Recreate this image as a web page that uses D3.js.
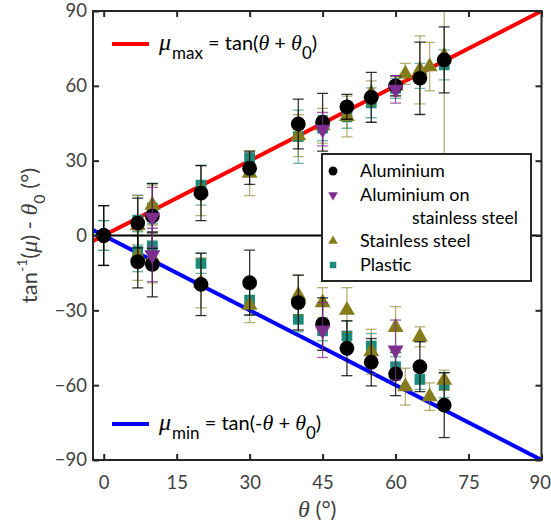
<!DOCTYPE html>
<html>
<head>
<meta charset="utf-8">
<script src="https://cdn.jsdelivr.net/npm/d3@7"></script>
<style>
  body { margin: 0; background: #fff; }
  text { font-family: Lato, "Open Sans", sans-serif; }
</style>
</head>
<body>
<svg id="chart" width="551" height="526"></svg>
<script>
// Tilt angle (deg) against measured friction angle offset, upper and lower branches
const alTheta   = [0, 7, 10, 20, 30, 40, 45, 50, 55, 60, 65, 70];
const alUp      = [0, 5, 7.8, 17, 27, 44.7, 45.4, 51.6, 55.4, 60, 63, 70.4];
const alUpErr   = [12, 10, 13, 11, 6.5, 10, 11.6, 5, 10, 4, 14.5, 13.2];
const alLo      = [0, -10.5, -11.6, -19.6, -18.9, -26.9, -35.5, -45.2, -50.8, -55.5, -52.6, -68];
const alLoErr   = [12, 10.5, 13, 12.5, 13, 11, 10.5, 11, 9.5, 8.7, 10, 13];

const alssTheta = [10, 45, 60];
const alssUp    = [7.3, 42.6, 58.6];
const alssUpErr = [12, 6.7, 5.5];
const alssLo    = [-7.8, -37.9, -45.9];
const alssLoErr = [10.7, 11, 12];

const ssTheta   = [7, 10, 20, 30, 40, 45, 50, 55, 60, 62, 65, 67, 70];
const ssUp      = [4, 12.2, 18, 25, 40, 44, 47.7, 57, 60, 64.8, 66.4, 67.7, 72];
const ssUpErr   = [12, 8, 10, 9, 8.4, 7, 8.2, 5, 4, 4.2, 13.6, 9.7, 75];
const ssLo      = [-8, -9, -19, -27.9, -23.9, -26.9, -29.9, -46.6, -36.8, -60.6, -40.6, -64.6, -58];
const ssLoErr   = [10, 10, 10, 7, 8, 6, 9, 9, 8.3, 7.4, 4, 5.5, 4];

const plTheta   = [0, 7, 10, 20, 30, 40, 45, 50, 55, 60, 65, 70];
const plUp      = [0, 6.2, 11, 20.2, 31, 39.6, 43, 47.6, 53.2, 59, 64, 68.4];
const plUpErr   = [6, 10, 10, 8, 3, 10.7, 5, 4.6, 6, 4, 5, 6];
const plLo      = [0, -6.5, -4.2, -11.2, -25.9, -33.6, -38.2, -40.3, -44.3, -52.6, -57.7, -60];
const plLoErr   = [6, 8, 9, 4, 6, 5, 4, 6, 5, 4, 4, 5];

const xTicks = [0, 15, 30, 45, 60, 75, 90];
const yTicks = [-90, -60, -30, 0, 30, 60, 90];
const legendNames = ["Aluminium", "Aluminium on", "Stainless steel", "Plastic"];

const svg = d3.select("#chart");
const pLeft = 93, pRight = 541.5, pTop = 11, pBottom = 460;

const x = d3.scaleLinear().domain([-2.2, 90]).range([pLeft, pRight]);
const y = d3.scaleLinear().domain([-90, 90]).range([pBottom, pTop]);

const axisColor = "#262626";
const labelColor = "#404040";

svg.append("defs").append("clipPath").attr("id", "plotClip")
  .append("rect").attr("x", pLeft).attr("y", pTop)
  .attr("width", pRight - pLeft).attr("height", pBottom - pTop);

const plot = svg.append("g").attr("clip-path", "url(#plotClip)");

// zero reference
plot.append("line")
  .attr("x1", pLeft).attr("x2", pRight)
  .attr("y1", y(0)).attr("y2", y(0))
  .attr("stroke", "#000").attr("stroke-width", 2);

// model lines: upper = +theta, lower = -theta
const lineDomain = x.domain();
const modelLine = d3.line().x(d => x(d[0])).y(d => y(d[1]));
plot.append("path")
  .attr("d", modelLine(lineDomain.map(t => [t, t])))
  .attr("stroke", "#ff0000").attr("stroke-width", 4).attr("fill", "none");
plot.append("path")
  .attr("d", modelLine(lineDomain.map(t => [t, -t])))
  .attr("stroke", "#0000ff").attr("stroke-width", 4).attr("fill", "none");

const series = [
  { name: "plastic", theta: plTheta, branches: [[plUp, plUpErr], [plLo, plLoErr]],
    color: "#1e8a7c", barColor: "rgba(30,138,124,0.65)", shape: "square" },
  { name: "steel", theta: ssTheta, branches: [[ssUp, ssUpErr], [ssLo, ssLoErr]],
    color: "#857c1c", barColor: "rgba(133,124,28,0.6)", shape: "up" },
  { name: "aluminium", theta: alTheta, branches: [[alUp, alUpErr], [alLo, alLoErr]],
    color: "#000000", barColor: "rgba(0,0,0,0.8)", shape: "circle" },
  { name: "alss", theta: alssTheta, branches: [[alssUp, alssUpErr], [alssLo, alssLoErr]],
    color: "#7e2f8e", barColor: "rgba(126,47,142,0.75)", shape: "down" }
];

const capHalf = 5.5;

function drawMarker(g, shape, cx, cy, color, scale) {
  if (shape === "circle") {
    g.append("circle").attr("cx", cx).attr("cy", cy).attr("r", 7.4 * scale).attr("fill", color);
  } else if (shape === "square") {
    g.append("path").attr("d", d3.symbol(d3.symbolSquare, 115 * scale * scale)())
      .attr("transform", `translate(${cx},${cy})`).attr("fill", color);
  } else {
    const rot = shape === "down" ? 180 : 0;
    g.append("path").attr("d", d3.symbol(d3.symbolTriangle, 110 * scale * scale)())
      .attr("transform", `translate(${cx},${cy}) rotate(${rot})`).attr("fill", color);
  }
}

series.forEach(s => {
  const g = plot.append("g").attr("class", s.name);
  s.branches.forEach(([vals, errs]) => {
    s.theta.forEach((t, i) => {
      const cx = x(t), lo = y(vals[i] - errs[i]), hi = y(vals[i] + errs[i]);
      g.append("line").attr("x1", cx).attr("x2", cx).attr("y1", lo).attr("y2", hi)
        .attr("stroke", s.barColor).attr("stroke-width", 1.3);
      [lo, hi].forEach(yy => g.append("line")
        .attr("x1", cx - capHalf).attr("x2", cx + capHalf).attr("y1", yy).attr("y2", yy)
        .attr("stroke", s.barColor).attr("stroke-width", 1.3));
    });
  });
  s.branches.forEach(([vals]) => {
    s.theta.forEach((t, i) => drawMarker(g, s.shape, x(t), y(vals[i]), s.color, 1));
  });
});

// axes box with inward ticks on all sides
const axisFont = 18.5;
const gLeft = svg.append("g").attr("transform", `translate(${pLeft},0)`)
  .call(d3.axisLeft(y).tickValues(yTicks).tickSize(-6).tickPadding(6));
const gRight = svg.append("g").attr("transform", `translate(${pRight},0)`)
  .call(d3.axisRight(y).tickValues(yTicks).tickSize(-6).tickFormat(""));
const gBottom = svg.append("g").attr("transform", `translate(0,${pBottom})`)
  .call(d3.axisBottom(x).tickValues(xTicks).tickSize(-6).tickPadding(16));
const gTop = svg.append("g").attr("transform", `translate(0,${pTop})`)
  .call(d3.axisTop(x).tickValues(xTicks).tickSize(-6).tickFormat(""));
[gLeft, gRight, gBottom, gTop].forEach(g => {
  g.select(".domain").remove();
  g.selectAll(".tick line").attr("stroke", axisColor).attr("stroke-width", 2);
  g.selectAll(".tick text").attr("fill", labelColor)
    .style("font-size", axisFont + "px").style("font-family", "Lato, sans-serif");
});
// keep the last x label inside the canvas
gBottom.selectAll(".tick").filter(d => d === 90).select("text")
  .attr("text-anchor", "end").attr("x", 9);
svg.append("rect").attr("x", pLeft).attr("y", pTop)
  .attr("width", pRight - pLeft).attr("height", pBottom - pTop)
  .attr("fill", "none").attr("stroke", axisColor).attr("stroke-width", 2);

// axis titles
const serif = "'Liberation Serif', 'DejaVu Serif', serif";
const xt = svg.append("text").attr("x", (pLeft + pRight) / 2).attr("y", 517)
  .attr("text-anchor", "middle").attr("fill", labelColor).style("font-size", "22px");
xt.append("tspan").text("θ").style("font-family", serif).style("font-style", "italic").style("font-size", "24px");
xt.append("tspan").text(" (°)");

const yt = svg.append("text")
  .attr("transform", `translate(37,${(pTop + pBottom) / 2}) rotate(-90)`)
  .attr("text-anchor", "middle").attr("fill", labelColor).style("font-size", "22px");
yt.append("tspan").text("tan");
yt.append("tspan").text("-1").attr("dy", -10).style("font-size", "14px");
yt.append("tspan").text("(").attr("dy", 10);
yt.append("tspan").text("μ").style("font-family", serif).style("font-style", "italic").style("font-size", "24px");
yt.append("tspan").text(") - ");
yt.append("tspan").text("θ").style("font-family", serif).style("font-style", "italic").style("font-size", "24px");
yt.append("tspan").text("0").attr("dy", 8).style("font-size", "16px");
yt.append("tspan").text(" (°)").attr("dy", -8);

// model line annotations
function modelLabel(yLine, sub, inner, color) {
  svg.append("line").attr("x1", 112).attr("x2", 149).attr("y1", yLine).attr("y2", yLine)
    .attr("stroke", color).attr("stroke-width", 4);
  const t = svg.append("text").attr("x", 159).attr("y", yLine + 6)
    .attr("fill", "#000").style("font-size", "20px");
  t.append("tspan").text("μ").style("font-family", serif).style("font-style", "italic").style("font-size", "24px");
  t.append("tspan").text(sub).attr("dy", 9).attr("dx", 1).style("font-size", "17px");
  t.append("tspan").text(" = tan(" + inner).attr("dy", -9);
  t.append("tspan").text("θ").style("font-family", serif).style("font-style", "italic").style("font-size", "22px");
  t.append("tspan").text(" + ");
  t.append("tspan").text("θ").style("font-family", serif).style("font-style", "italic").style("font-size", "22px");
  t.append("tspan").text("0").attr("dy", 9).style("font-size", "17px");
  t.append("tspan").text(")").attr("dy", -9);
}
modelLabel(44, "max", "", "#ff0000");
modelLabel(424, "min", "-", "#0000ff");

// material legend
const lg = svg.append("g");
lg.append("rect").attr("x", 322).attr("y", 154).attr("width", 209).attr("height", 127)
  .attr("fill", "#fff").attr("stroke", axisColor).attr("stroke-width", 2);
const legendRows = [
  { shape: "circle", color: "#000000", yc: 171, label: legendNames[0] },
  { shape: "down", color: "#7e2f8e", yc: 195, label: legendNames[1] },
  { shape: "up", color: "#857c1c", yc: 241, label: legendNames[2] },
  { shape: "square", color: "#1e8a7c", yc: 265, label: legendNames[3] }
];
legendRows.forEach(r => {
  drawMarker(lg, r.shape, 333, r.yc, r.color, 0.6);
  lg.append("text").attr("x", 360).attr("y", r.yc + 6).text(r.label)
    .attr("fill", "#000").style("font-size", "18px");
});
lg.append("text").attr("x", 412).attr("y", 224).text("stainless steel")
  .attr("fill", "#000").style("font-size", "17.5px");
</script>
</body>
</html>
